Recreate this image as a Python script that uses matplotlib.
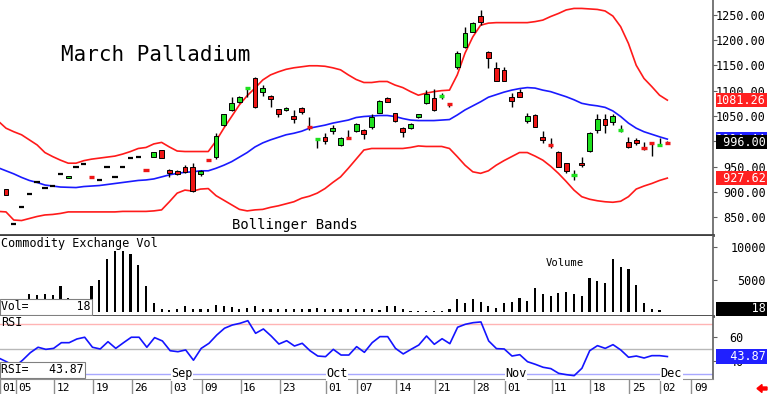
"""March Palladium daily candles with Bollinger Bands, volume and RSI panels."""
import numpy as np
import matplotlib
matplotlib.use("Agg")
import matplotlib.pyplot as plt
from matplotlib import transforms
from matplotlib.patches import Rectangle, FancyArrow

plt.rcParams["font.family"] = ["DejaVu Sans Mono"]

# trading days Aug 01 .. Dec 02 (index 0 .. 85)
opens = [905.6, 837.8, 871.3, 896.9, 919.0, 908.7, 911.5, 936.3, 928.6, 949.0,
         955.4, 931.0, 923.9, 949.0, 929.2, 949.5, 966.7, 968.6, 945.0, 968.6,
         983.0, 943.6, 941.6, 949.0, 950.0, 935.7, 964.0, 969.8, 1032.3, 1061.8,
         1078.2, 1104.0, 1124.3, 1096.7, 1089.4, 1063.2, 1061.8, 1050.0, 1065.0, 1029.8,
         1004.0, 1009.2, 1020.4, 992.9, 1008.8, 1021.0, 1022.4, 1029.0, 1056.5, 1086.0,
         1055.3, 1025.7, 1026.9, 1047.4, 1075.0, 1084.9, 1088.5, 1075.5, 1146.0, 1185.4,
         1216.1, 1247.0, 1176.7, 1145.2, 1140.6, 1086.8, 1096.7, 1039.5, 1052.0, 1009.2,
         994.0, 979.7, 956.8, 932.5, 958.0, 981.0, 1022.4, 1044.7, 1037.6, 1021.0,
         999.4, 1002.7, 987.5, 997.0, 991.5, 998.0]
highs = [906.5, 837.8, 871.3, 896.9, 919.0, 908.7, 911.5, 936.3, 932.5, 949.0,
         955.4, 931.0, 923.9, 949.0, 929.2, 949.5, 966.7, 968.6, 945.0, 979.7,
         983.5, 945.0, 943.0, 953.5, 956.8, 943.5, 964.0, 1015.9, 1054.0, 1086.8,
         1088.5, 1105.5, 1126.0, 1111.0, 1091.0, 1064.5, 1068.3, 1061.8, 1068.3, 1049.0,
         1005.3, 1017.0, 1032.3, 1008.5, 1022.4, 1036.0, 1023.5, 1054.0, 1081.5, 1088.0,
         1056.5, 1028.5, 1036.0, 1054.5, 1101.2, 1102.6, 1095.0, 1076.0, 1178.7, 1224.8,
         1235.0, 1258.9, 1178.0, 1155.8, 1147.0, 1094.8, 1102.6, 1055.3, 1053.0, 1021.0,
         1006.0, 981.0, 958.0, 943.6, 969.8, 1017.5, 1053.9, 1053.9, 1053.9, 1032.3,
         1009.2, 1006.0, 999.4, 997.0, 1006.0, 1000.0]
lows = [893.5, 837.8, 871.3, 896.9, 919.0, 908.7, 911.5, 936.3, 928.6, 949.0,
        955.4, 929.5, 923.9, 949.0, 929.2, 949.5, 966.7, 968.6, 943.5, 968.6,
        966.7, 930.4, 933.5, 938.5, 901.0, 931.8, 962.5, 964.7, 1031.0, 1060.5,
        1076.5, 1086.8, 1066.5, 1090.0, 1068.3, 1048.6, 1059.8, 1036.8, 1054.0, 1022.0,
        986.4, 994.8, 1014.5, 991.5, 1007.3, 1019.0, 1004.0, 1023.8, 1055.0, 1077.0,
        1039.0, 1009.0, 1024.0, 1046.0, 1074.0, 1060.0, 1083.0, 1068.0, 1142.0, 1184.0,
        1215.0, 1229.3, 1144.0, 1118.5, 1118.0, 1068.3, 1087.0, 1036.8, 1028.0, 997.4,
        986.4, 949.0, 937.0, 923.9, 948.9, 979.0, 1017.0, 1017.0, 1032.3, 1019.0,
        986.4, 993.0, 983.0, 971.2, 991.0, 996.0]
closes = [894.3, 837.8, 871.3, 896.9, 919.0, 908.7, 911.5, 936.3, 932.5, 949.0,
          955.4, 929.5, 923.9, 949.0, 929.2, 949.5, 966.7, 968.6, 943.5, 979.7,
          966.7, 937.0, 935.1, 940.3, 902.2, 942.3, 962.5, 1010.6, 1053.3, 1076.2,
          1086.8, 1105.5, 1068.3, 1104.6, 1082.9, 1053.3, 1066.4, 1044.7, 1057.9, 1028.3,
          1005.3, 1001.3, 1027.0, 1007.3, 1007.3, 1033.6, 1014.5, 1048.6, 1079.5, 1078.0,
          1040.2, 1019.1, 1034.2, 1053.3, 1092.7, 1061.8, 1090.0, 1074.0, 1173.5, 1213.0,
          1233.8, 1235.8, 1163.7, 1119.6, 1119.0, 1080.0, 1088.0, 1049.6, 1029.0, 1002.1,
          992.9, 950.0, 941.6, 933.7, 953.5, 1015.9, 1043.5, 1031.7, 1050.0, 1022.4,
          989.6, 996.0, 986.4, 996.0, 992.9, 996.0]
volume = [600, 1850, 900, 2790, 2680, 2790, 2580, 4080, 2220, 800,
          700, 4080, 4900, 8150, 9440, 9500, 8980, 7220, 4080, 1340,
          400, 300, 500, 930, 400, 400, 400, 1080, 880, 720,
          460, 570, 880, 400, 400, 400, 400, 400, 400, 500,
          650, 400, 400, 400, 400, 400, 500, 400, 300, 930,
          930, 460, 200, 200, 200, 200, 200, 460, 1960, 1440,
          1960, 1600, 930, 570, 1340, 1600, 2120, 1650, 3670, 2840,
          2530, 2890, 3150, 2840, 2480, 5210, 4800, 4440, 8150, 6910,
          6600, 4180, 1440, 400, 300, 18]

# indicator series start one session earlier (index -1 .. 85)
rsi = [42.5, 39.5, 35.7, 40.9, 47.0, 51.4, 49.7, 50.5, 55.1, 55.1,
       58.1, 59.5, 51.4, 50.0, 55.9, 50.5, 55.1, 59.5, 59.5, 51.4,
       59.2, 56.5, 48.6, 47.8, 49.2, 40.9, 50.5, 54.6, 61.3, 66.8,
       69.4, 70.8, 72.9, 62.7, 66.2, 60.5, 54.0, 56.7, 52.4, 54.6,
       48.6, 44.3, 43.8, 49.7, 45.1, 45.1, 51.9, 47.3, 55.1, 60.0,
       60.0, 50.5, 46.0, 49.7, 53.2, 60.5, 53.8, 58.3, 54.3, 67.6,
       70.0, 71.3, 71.9, 56.5, 50.3, 50.0, 44.3, 45.4, 39.7, 37.6,
       35.2, 34.1, 30.3, 29.2, 28.4, 34.4, 48.6, 52.7, 50.5, 53.5,
       49.2, 43.3, 44.3, 42.7, 44.6, 44.6, 43.87]
upper = [1040, 1026, 1019, 1013, 1003, 993, 978, 970, 963, 957,
         957, 962, 965, 967, 969, 971, 975, 980, 986, 988,
         995, 998, 989, 981, 980, 980, 980, 980, 1001, 1026,
         1049, 1072, 1090, 1105, 1121, 1131, 1137, 1142, 1145, 1147,
         1149, 1149, 1148, 1145, 1141, 1131, 1122, 1116, 1116, 1118,
         1118, 1111, 1106, 1098, 1091, 1095, 1098, 1100, 1101, 1131,
         1174, 1206, 1229, 1233, 1234, 1234, 1234, 1234, 1234, 1236,
         1239, 1246, 1252, 1259, 1262, 1262, 1261, 1260, 1257, 1247,
         1226, 1193, 1150, 1124, 1108, 1091, 1081.26]
middle = [948, 942, 936, 929, 923, 919, 914, 912, 910, 909.5,
          909, 911, 912, 913, 915, 917, 919, 921, 923, 924,
          926, 930, 934, 937, 939, 940, 942, 942, 947, 953,
          960, 969, 978, 989, 997, 1003, 1008, 1013, 1016, 1020,
          1026, 1029, 1032, 1036, 1039, 1042, 1047, 1049, 1050, 1051,
          1051, 1049, 1045, 1042, 1041, 1041, 1041, 1042, 1043, 1052,
          1062, 1070, 1078, 1087, 1092, 1097, 1101, 1104, 1106, 1105,
          1101, 1098, 1093, 1088, 1082, 1075, 1072, 1070, 1067, 1060,
          1049, 1036, 1026, 1019, 1014, 1009, 1004.44]
lower = [862, 861, 845, 844, 848, 852, 855, 856, 858, 861,
         861, 861, 861, 861, 861, 861, 862, 862, 862, 862,
         863, 865, 881, 898, 904, 902, 906, 907, 893, 884,
         875, 866, 863, 865, 866, 870, 873, 877, 881, 888,
         892, 898, 907, 919, 930, 947, 965, 983, 986, 986,
         986, 986, 986, 988, 991, 990, 990, 990, 986, 970,
         953, 940, 937, 942, 953, 962, 970, 978, 978, 971,
         963, 951, 937, 921, 904, 891, 886, 883, 881, 880,
         882, 891, 906, 912, 917, 923, 927.62]

date_idx = [0, 2, 7, 12, 17, 22, 26, 31, 36, 42, 46, 51, 56, 61, 65, 71, 76, 81, 85, 89]
date_labels = ["01", "05", "12", "19", "26", "03", "09", "16", "23", "01",
               "07", "14", "21", "28", "01", "11", "18", "25", "02", "09"]
month_idx = [22, 42, 65, 85]
month_labels = ["Sep", "Oct", "Nov", "Dec"]

GREEN = "#1ee01e"
RED = "#ee1515"
W, H = 768, 394
XLIM = (-0.77, 90.87)


def frame(top, bottom):
    return [0, (H - bottom) / H, 713 / W, (bottom - top) / H]


def right_labels(axis, ticks, labels, right_px, size):
    axis.yaxis.tick_right()
    axis.set_yticks(ticks)
    axis.set_yticklabels(labels)
    pad = (right_px - 713) * 72 / 100 - 3
    axis.tick_params(axis="y", direction="out", length=3, width=0.8,
                     color="#606060", pad=pad, labelsize=size)
    for t in axis.get_yticklabels():
        t.set_horizontalalignment("right")


def value_box(axis, value, text, face, dy=0):
    tr = transforms.blended_transform_factory(fig.transFigure, axis.transData)
    tr = transforms.offset_copy(tr, fig=fig, y=dy, units="dots")
    axis.text(766 / W, value, text, transform=tr, ha="right", va="center",
              color="white", fontsize=8.5, clip_on=False, zorder=6,
              bbox=dict(boxstyle="square,pad=0.05", fc=face, ec="none"))


fig = plt.figure(figsize=(7.68, 3.94), dpi=100)
ax = fig.add_axes(frame(0, 235))
axv = fig.add_axes(frame(236, 316))
axr = fig.add_axes(frame(316, 379))

for a in (ax, axv, axr):
    a.set_xlim(*XLIM)
    a.spines[["left", "top"]].set_visible(False)
    a.spines["right"].set_color("#606060")
    a.spines["right"].set_linewidth(1.2)
ax.spines["bottom"].set_color("#404040")
ax.spines["bottom"].set_linewidth(2)
axv.spines["bottom"].set_color("#404040")
axv.spines["bottom"].set_linewidth(2)
axr.spines["bottom"].set_color("#909090")
axr.spines["bottom"].set_linewidth(0.8)

# ---- price panel
x = np.arange(len(closes))
xb = np.arange(-1, len(closes))
ax.plot(xb, upper, color="#ff1a1a", lw=1.2, zorder=2)
ax.plot(xb, lower, color="#ff1a1a", lw=1.2, zorder=2)
ax.plot(xb, middle, color="#1a1aff", lw=1.2, zorder=2)

for i in x:
    o, h, l, c = opens[i], highs[i], lows[i], closes[i]
    if h > l:
        ax.vlines(i, l, h, color="black", lw=1, zorder=3)
    if abs(c - o) <= 2.5:
        col = "black" if c == o else (GREEN if c > o else RED)
        ax.hlines(c, i - 0.34, i + 0.34, color=col, lw=1.6 if c == o else 2.4, zorder=4)
    else:
        ax.add_patch(Rectangle((i - 0.31, min(o, c)), 0.62, abs(c - o),
                               fc=GREEN if c > o else RED, ec="black", lw=0.7, zorder=4))

ax.set_ylim(815.5, 1278.6)
ax.set_xticks([])
ticks = np.arange(850, 1251, 50)
right_labels(ax, ticks, [f"{v:.2f}" for v in ticks], 766, 8.5)

ax.text(61 / 713, 0.766, "March Palladium", transform=ax.transAxes,
        fontsize=15, va="center", ha="left")
ax.text(232 / 713, 0.042, "Bollinger Bands", transform=ax.transAxes,
        fontsize=10, va="center", ha="left")

value_box(ax, upper[-1], f"{upper[-1]:.2f}", "#ff2020")
value_box(ax, middle[-1], f"{middle[-1]:.2f}", "#2020ff")
value_box(ax, closes[-1], f" {closes[-1]:.2f}", "black", dy=1)
value_box(ax, lower[-1], f" {lower[-1]:.2f}", "#ff2020")

# ---- volume panel
axv.bar(x, volume, width=0.28, color="black", zorder=2)
axv.set_ylim(-619, 11765)
axv.set_xticks([])
right_labels(axv, [5000, 10000], ["5000", "10000"], 766, 8.5)
axv.text(0.002, 0.9, "Commodity Exchange Vol", transform=axv.transAxes,
         fontsize=8.5, va="center", ha="left")
axv.text(565 / 713, 0.66, "Volume", transform=axv.transAxes,
         fontsize=7.6, va="center", ha="center")
axv.text(0.002, 0.035, f"Vol=       {volume[-1]}", transform=axv.transAxes,
         fontsize=8.3, va="bottom", ha="left", zorder=6,
         bbox=dict(boxstyle="square,pad=0.12", fc="white", ec="#808080", lw=0.8))
value_box(axv, volume[-1], f"     {volume[-1]}", "black", dy=3)

# ---- RSI panel
axr.axhline(70, color="#ffb4b4", lw=1, zorder=1)
axr.axhline(50, color="#b8b8b8", lw=1, zorder=1)
axr.axhline(30, color="#a8a8ff", lw=1, zorder=1)
axr.plot(np.arange(-1, len(closes)), rsi, color="#1414ff", lw=1.2, zorder=3)
axr.set_ylim(25.7, 76.7)
right_labels(axr, [40, 60], ["40", "60"], 744, 8.5)
axr.text(0.002, 0.89, "RSI", transform=axr.transAxes,
         fontsize=8.5, va="center", ha="left")
axr.text(0.002, 0.04, f"RSI=   {rsi[-1]:.2f}", transform=axr.transAxes,
         fontsize=8.3, va="bottom", ha="left", zorder=6,
         bbox=dict(boxstyle="square,pad=0.12", fc="white", ec="#808080", lw=0.8))
for m, lab in zip(month_idx, month_labels):
    axr.text(m + 0.5, 30, lab, fontsize=8.5, ha="center", va="center", zorder=4,
             bbox=dict(boxstyle="square,pad=0.05", fc="white", ec="none"))
value_box(axr, rsi[-1], f"  {rsi[-1]:.2f}", "#2020ff")

# date row
axr.set_xticks([d - 0.9 for d in date_idx])
axr.set_xticklabels([])
axr.tick_params(axis="x", direction="out", length=11, width=1, color="#909090")
trd = transforms.blended_transform_factory(axr.transData, axr.transAxes)
for d, lab in zip(date_idx, date_labels):
    axr.text(d - 0.9 + 0.3, -0.14, lab, transform=trd, fontsize=8,
             ha="left", va="center", clip_on=False)

fig.patches.append(FancyArrow(767 / W, 5.5 / H, -10 / W, 0, width=3 / H,
                              head_width=8 / H, head_length=5 / W,
                              length_includes_head=True, color="red",
                              transform=fig.transFigure, figure=fig))

fig.savefig("out.png", dpi=100)
